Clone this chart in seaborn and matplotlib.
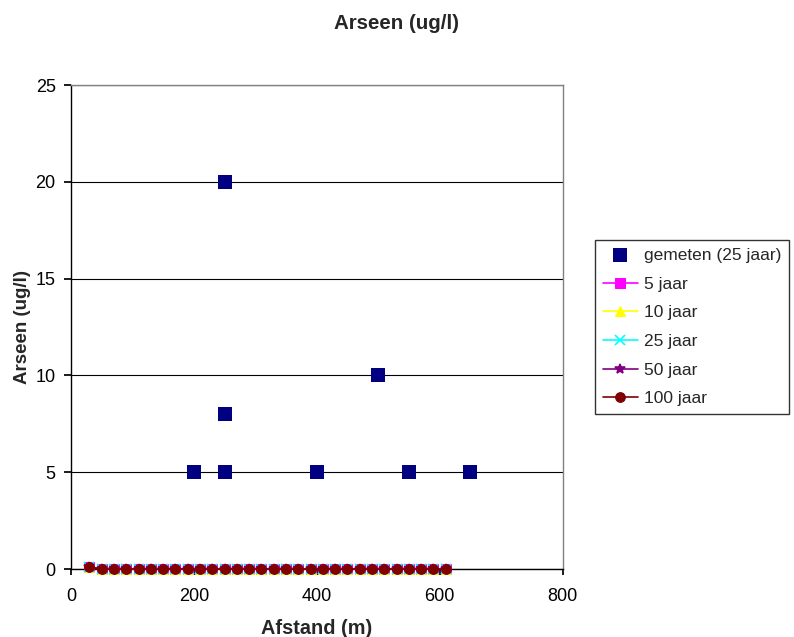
import matplotlib
matplotlib.use("Agg")
import matplotlib.pyplot as plt
import seaborn as sns
import pandas as pd

sns.set_theme(style="white")
plt.rcParams['font.family'] = ['Liberation Sans', 'DejaVu Sans']

# measured data
meas_x = [200, 250, 250, 250, 400, 500, 550, 650]
meas_y = [5, 20, 8, 5, 5, 10, 5, 5]

# model series (all overlap)
model_x = [30, 50, 70, 90, 110, 130, 150, 170, 190, 210, 230, 250, 270, 290, 310,
           330, 350, 370, 390, 410, 430, 450, 470, 490, 510, 530, 550, 570, 590, 610]
model_y = [0.1] + [0.0] * 29
series_names = ["5 jaar", "10 jaar", "25 jaar", "50 jaar", "100 jaar"]
series_colors = ["#FF00FF", "#FFFF00", "#00FFFF", "#800080", "#800000"]
series_markers = ["s", "^", "x", "*", "o"]

fig = plt.figure(figsize=(7.94, 6.37), dpi=100)
ax = fig.add_axes([71/794, 1-569/637, (562.5-71)/794, (569-85)/637])

sns.scatterplot(x=meas_x, y=meas_y, ax=ax, marker="s", s=90, color="#000080",
                edgecolor="#000080", linewidth=0, zorder=6, label="gemeten (25 jaar)")
for name, col, mk in zip(series_names, series_colors, series_markers):
    df = pd.DataFrame({"x": model_x, "y": model_y})
    kw = dict(markeredgecolor=col, markerfacecolor=col, markersize=7)
    if mk in ("x", "*"):
        kw["markeredgewidth"] = 1.2
    sns.lineplot(data=df, x="x", y="y", ax=ax, color=col, marker=mk, linewidth=1.2,
                 label=name, zorder=5, **kw)
for ln in ax.lines:
    ln.set_clip_on(False)

ax.set_xlim(0, 800)
ax.set_ylim(0, 25)
ax.set_xticks([0, 200, 400, 600, 800])
ax.set_yticks([0, 5, 10, 15, 20, 25])
ax.yaxis.grid(True, color="black", linewidth=0.8)
ax.xaxis.grid(False)
ax.set_axisbelow(True)
for side in ["top", "right"]:
    ax.spines[side].set_color("#808080")
    ax.spines[side].set_linewidth(1)
for side in ["left", "bottom"]:
    ax.spines[side].set_color("black")
    ax.spines[side].set_linewidth(1)
ax.tick_params(axis="x", labelsize=13, length=4, direction="out", colors="black",
               bottom=True, pad=10)
ax.tick_params(axis="y", labelsize=13, length=5, direction="out", colors="black",
               left=True, pad=6)
ax.set_xlabel("Afstand (m)", fontsize=14.3, fontweight="bold", labelpad=10)
ax.set_ylabel("Arseen (ug/l)", fontsize=13.5, fontweight="bold", labelpad=3)
fig.text(0.5, 1-29/637, "Arseen (ug/l)", ha="center", va="baseline", fontsize=14.8,
         fontweight="bold")

leg = ax.legend(loc="upper left", bbox_to_anchor=(595/794, 1-240/637),
                bbox_transform=fig.transFigure, frameon=True, fancybox=False,
                edgecolor="black", fontsize=12.5, borderpad=0.45, labelspacing=0.78,
                handlelength=2.0, handletextpad=0.35, borderaxespad=0)
leg.get_frame().set_linewidth(1)

fig.savefig("out.png", dpi=100)
